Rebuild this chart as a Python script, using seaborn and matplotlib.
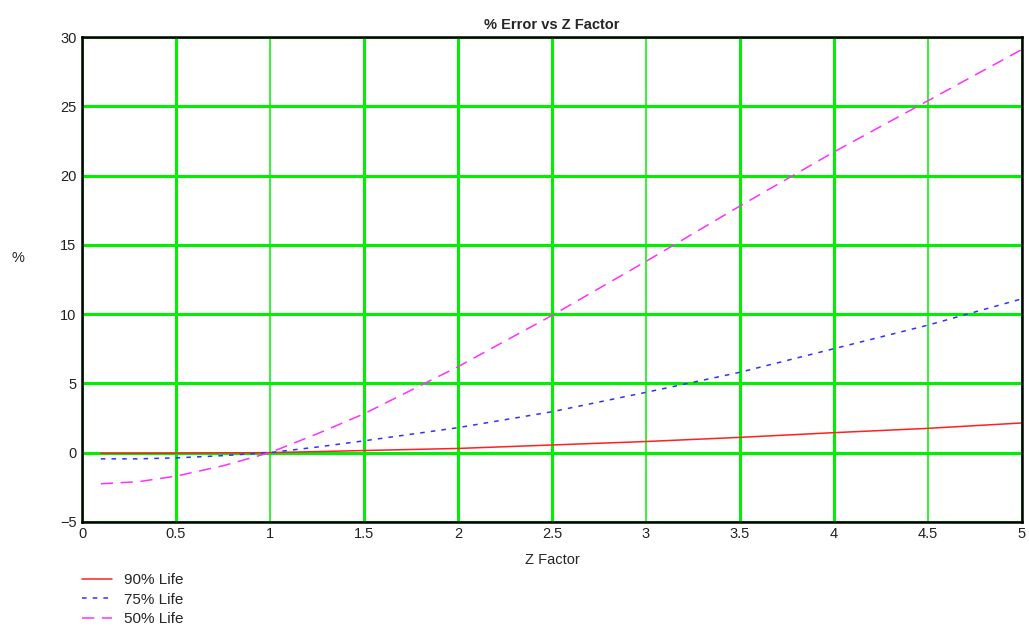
import numpy as np
import pandas as pd
import matplotlib
matplotlib.use("Agg")
import matplotlib.pyplot as plt
import seaborn as sns

# values
z = [0.1, 0.3, 0.5, 0.75, 1.0, 1.25, 1.5, 2.0, 2.5, 3.0, 3.5, 4.0, 4.5, 5.0]
life_90 = [-0.05, -0.05, -0.04, -0.02, 0.0, 0.07, 0.15, 0.3, 0.55, 0.8, 1.1, 1.44, 1.75, 2.14]
life_75 = [-0.45, -0.45, -0.38, -0.22, 0.0, 0.4, 0.85, 1.8, 2.95, 4.35, 5.8, 7.5, 9.2, 11.1]
life_50 = [-2.25, -2.1, -1.7, -0.95, 0.0, 1.35, 2.8, 6.2, 9.9, 13.8, 17.8, 21.7, 25.4, 29.1]

df = pd.DataFrame({"z": z, "90% Life": life_90, "75% Life": life_75, "50% Life": life_50})

sns.set_style("white")
plt.rcParams["font.family"] = ["Liberation Sans", "DejaVu Sans"]

fig = plt.figure(figsize=(10.29, 6.28), dpi=100)
ax = fig.add_axes([0.0797, 0.169, 0.9133, 0.772])

# grid
ax.set_xlim(0, 5)
ax.set_ylim(-5, 30)
ax.set_xticks(np.arange(0, 5.01, 0.5))
ax.set_yticks(np.arange(-5, 30.01, 5))
ax.set_xticklabels(["0", "0.5", "1", "1.5", "2", "2.5", "3", "3.5", "4", "4.5", "5"])
ax.set_yticklabels(["\u22125", "0", "5", "10", "15", "20", "25", "30"])
ax.grid(True, color="#00f000", linewidth=2.2, zorder=0)
ax.set_axisbelow(True)
for i, gl in enumerate(ax.get_xgridlines()):
    if i in (2, 6, 9):
        gl.set_linewidth(1.1)

sns.lineplot(data=df, x="z", y="90% Life", ax=ax, color="#ff2020", linewidth=1.1,
             label="90% Life")
sns.lineplot(data=df, x="z", y="75% Life", ax=ax, color="#3030ff", linewidth=1.1,
             linestyle=(0, (3, 4)), label="75% Life")
sns.lineplot(data=df, x="z", y="50% Life", ax=ax, color="#ff30ff", linewidth=1.1,
             linestyle=(0, (8, 5)), label="50% Life")

for s in ax.spines.values():
    s.set_color("black")
    s.set_linewidth(1.8)
ax.tick_params(length=0, labelsize=10.5, colors="#222222", pad=4)

ax.set_title("% Error vs Z Factor", fontsize=10.5, fontweight="bold", pad=6)
ax.set_xlabel("Z Factor", fontsize=10.5, labelpad=8)
ax.set_ylabel("%", fontsize=10.5, rotation=0)
ax.yaxis.set_label_coords(-0.068, 0.53)

handles, labels = ax.get_legend_handles_labels()
ax.get_legend().remove()
fig.legend(handles, labels, loc="lower left", bbox_to_anchor=(0.066, -0.019),
           frameon=False, fontsize=11, handlelength=2.0, handletextpad=0.75,
           labelspacing=0.37)

fig.savefig("out.png", dpi=100)
